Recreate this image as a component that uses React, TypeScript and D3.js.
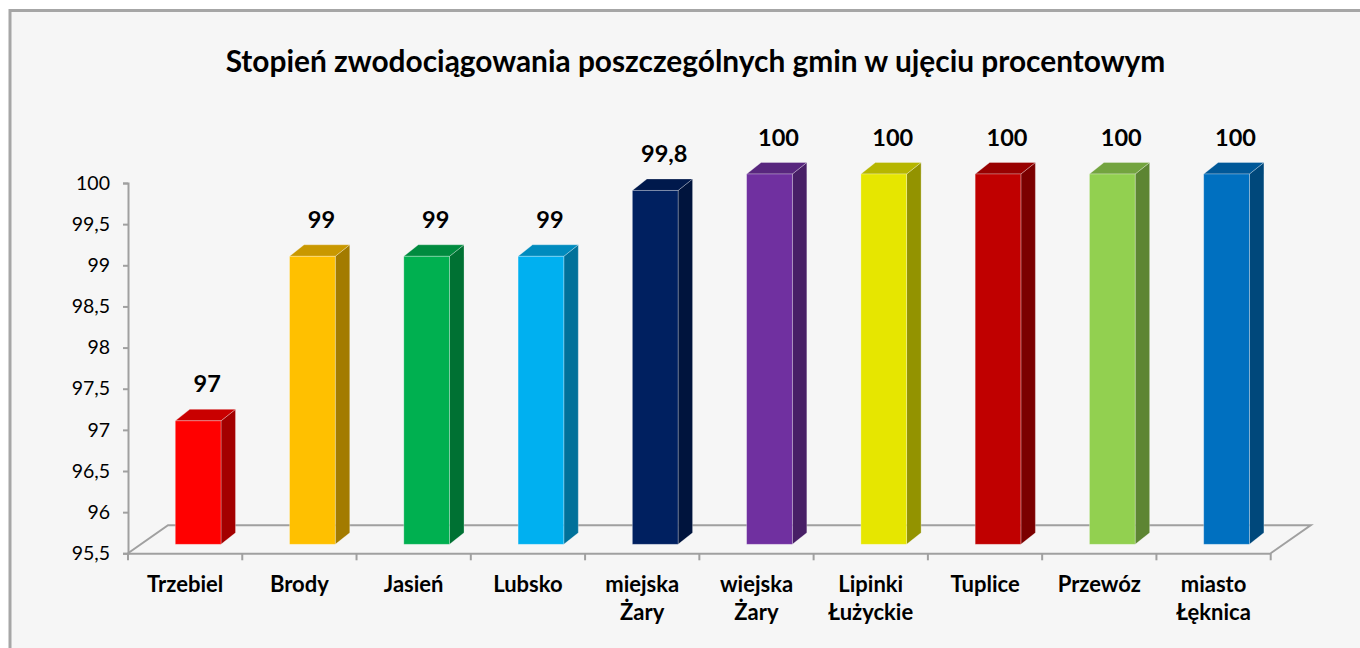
import React, { useEffect, useRef } from "react";
import * as d3 from "d3";

const title = "Stopień zwodociągowania poszczególnych gmin w ujęciu procentowym";
const categories = [
  "Trzebiel",
  "Brody",
  "Jasień",
  "Lubsko",
  "miejska Żary",
  "wiejska Żary",
  "Lipinki Łużyckie",
  "Tuplice",
  "Przewóz",
  "miasto Łęknica",
];
const values = [97, 99, 99, 99, 99.8, 100, 100, 100, 100, 100];
const barColors = [
  "#ff0000",
  "#ffc000",
  "#00b050",
  "#00b0f0",
  "#002060",
  "#7030a0",
  "#e6e600",
  "#c00000",
  "#92d050",
  "#0070c0",
];
const yTicks = [95.5, 96, 96.5, 97, 97.5, 98, 98.5, 99, 99.5, 100];

const W = 1360;
const H = 648;
const FONT = "Lato, 'Open Sans', sans-serif";

function shade(c: string, k: number) {
  const r = d3.rgb(c);
  return d3.rgb(r.r * k, r.g * k, r.b * k).formatHex();
}

export default function App() {
  const ref = useRef<SVGSVGElement | null>(null);

  useEffect(() => {
    const svg = d3.select(ref.current);
    svg.selectAll("*").remove();

    const plLocale = d3.formatLocale({
      decimal: ",",
      thousands: " ",
      grouping: [3],
      currency: ["", " zł"],
    });
    const fmt = plLocale.format("~f");

    // background + border
    svg.append("rect").attr("x", 0).attr("y", 0).attr("width", W).attr("height", H).attr("fill", "#ffffff");
    svg
      .append("rect")
      .attr("x", 10)
      .attr("y", 10.5)
      .attr("width", W + 20)
      .attr("height", H + 20)
      .attr("fill", "#f6f6f6")
      .attr("stroke", "#a6a6a6")
      .attr("stroke-width", 3);

    // title
    const t = svg
      .append("text")
      .attr("x", 695.5)
      .attr("y", 71.5)
      .attr("text-anchor", "middle")
      .attr("font-family", FONT)
      .attr("font-weight", "bold")
      .attr("font-size", 27)
      .attr("fill", "#000")
      .text(title);
    const tn = t.node() as SVGTextElement;
    const tw = tn.getComputedTextLength();
    if (tw > 0) t.attr("font-size", 27 * (940 / tw));

    const x0 = 128;
    const x1 = 1270.7;
    const yBottom = 553.3;
    const yTop = 183;
    const floorDx = 40;
    const floorDy = -28;
    const barOffX = 13;
    const barOffY = -9;
    const depthX = 14.5;
    const depthY = -11.5;

    const x = d3.scaleBand<string>().domain(categories).range([x0, x1]).padding(0);
    const y = d3.scaleLinear().domain([95.5, 100]).range([yBottom, yTop]);

    const axisColor = "#a0a0a0";
    const g = svg.append("g");

    // floor outline
    const floorPath = d3.path();
    floorPath.moveTo(x0, yBottom);
    floorPath.lineTo(x0 + floorDx, yBottom + floorDy);
    floorPath.lineTo(x1 + floorDx, yBottom + floorDy);
    floorPath.lineTo(x1, yBottom);
    g.append("path")
      .attr("d", floorPath.toString())
      .attr("fill", "none")
      .attr("stroke", axisColor)
      .attr("stroke-width", 2);

    // y axis
    const yAxis = d3
      .axisLeft(y)
      .tickValues(yTicks)
      .tickSize(5)
      .tickPadding(13)
      .tickFormat((d) => fmt(d as number));
    const ya = g.append("g").attr("transform", `translate(${x0},0)`).call(yAxis);
    ya.select(".domain").attr("stroke", axisColor).attr("stroke-width", 2);
    ya.selectAll(".tick line").attr("stroke", axisColor).attr("stroke-width", 2);
    ya.selectAll(".tick text")
      .attr("font-family", FONT)
      .attr("font-size", 19.5)
      .attr("fill", "#000");

    // x axis
    const xAxis = d3.axisBottom(x).tickSize(0).tickFormat(() => "");
    const xa = g.append("g").attr("transform", `translate(0,${yBottom})`).call(xAxis);
    xa.select(".domain").attr("stroke", axisColor).attr("stroke-width", 2);
    xa.selectAll(".tick").remove();
    const bounds = [...categories.map((c) => x(c) as number), x1];
    xa.selectAll("line.ct")
      .data(bounds)
      .enter()
      .append("line")
      .attr("class", "ct")
      .attr("x1", (d) => d)
      .attr("x2", (d) => d)
      .attr("y1", 0)
      .attr("y2", 7)
      .attr("stroke", axisColor)
      .attr("stroke-width", 2);

    // category labels
    const cl = g
      .selectAll("text.cat")
      .data(categories)
      .enter()
      .append("text")
      .attr("class", "cat")
      .attr("text-anchor", "middle")
      .attr("font-family", FONT)
      .attr("font-weight", "bold")
      .attr("font-size", 22)
      .attr("fill", "#000");
    cl.each(function (d) {
      const cx = (x(d) as number) + x.bandwidth() / 2;
      const parts = d.split(" ");
      const el = d3.select(this);
      parts.forEach((p, i) => {
        el.append("tspan").attr("x", cx).attr("y", 592 + i * 27.5).text(p);
      });
    });

    // bars
    const bw = x.bandwidth() * 0.4;
    const bars = g
      .selectAll("g.bar")
      .data(categories.map((c, i) => ({ c, v: values[i], col: barColors[i] })))
      .enter()
      .append("g")
      .attr("class", "bar");

    bars.each(function (d) {
      const el = d3.select(this);
      const fx = (x(d.c) as number) + x.bandwidth() / 2 - bw / 2 + barOffX;
      const fy0 = y(95.5) + barOffY;
      const fy1 = y(d.v) + barOffY;
      const edge = "rgba(255,255,255,0.35)";
      // side
      const side = d3.path();
      side.moveTo(fx + bw, fy0);
      side.lineTo(fx + bw + depthX, fy0 + depthY);
      side.lineTo(fx + bw + depthX, fy1 + depthY);
      side.lineTo(fx + bw, fy1);
      side.closePath();
      el.append("path").attr("d", side.toString()).attr("fill", shade(d.col, 0.64)).attr("stroke", edge).attr("stroke-width", 0.8);
      // top
      const top = d3.path();
      top.moveTo(fx, fy1);
      top.lineTo(fx + depthX, fy1 + depthY);
      top.lineTo(fx + bw + depthX, fy1 + depthY);
      top.lineTo(fx + bw, fy1);
      top.closePath();
      el.append("path").attr("d", top.toString()).attr("fill", shade(d.col, 0.79)).attr("stroke", edge).attr("stroke-width", 0.8);
      // front
      el.append("rect")
        .attr("x", fx)
        .attr("y", fy1)
        .attr("width", bw)
        .attr("height", fy0 - fy1)
        .attr("fill", d.col)
        .attr("stroke", edge)
        .attr("stroke-width", 0.8);
      // value label
      el.append("text")
        .attr("x", fx + bw / 2 + 9)
        .attr("y", fy1 + depthY - 17)
        .attr("text-anchor", "middle")
        .attr("font-family", FONT)
        .attr("font-weight", "bold")
        .attr("font-size", 23.5)
        .attr("fill", "#000")
        .text(fmt(d.v));
    });
  }, []);

  return (
    <svg
      ref={ref}
      width={W}
      height={H}
      style={{ position: "absolute", left: 0, top: 0, display: "block" }}
    />
  );
}
